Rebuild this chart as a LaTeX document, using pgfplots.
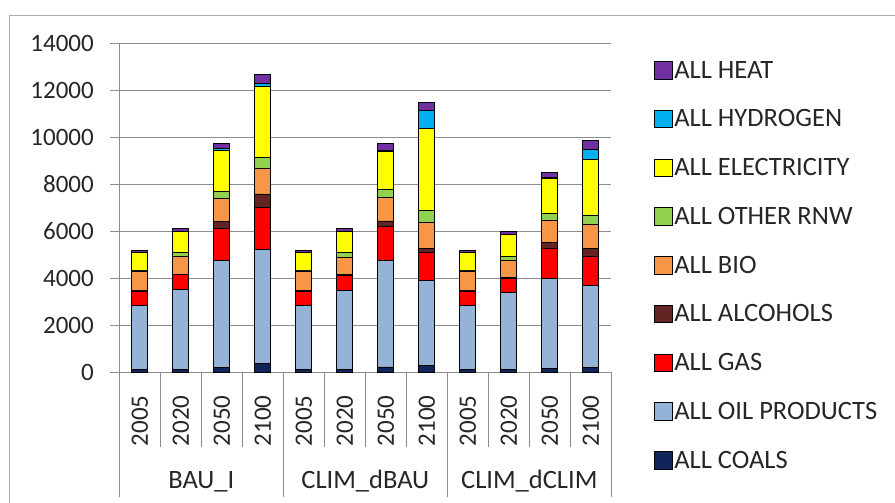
\documentclass[border=0pt]{standalone}
\usepackage{pgfplots}
\pgfplotsset{compat=1.18}
\usepackage{fontspec}
\setmainfont{Carlito}
\definecolor{cHeat}{HTML}{7030A0}
\definecolor{cHyd}{HTML}{00B0F0}
\definecolor{cElec}{HTML}{FFFF00}
\definecolor{cRnw}{HTML}{92D050}
\definecolor{cBio}{HTML}{F79646}
\definecolor{cAlc}{HTML}{632523}
\definecolor{cGas}{HTML}{FF0000}
\definecolor{cOil}{HTML}{95B3D7}
\definecolor{cCoal}{HTML}{10255A}
\definecolor{cTxt}{HTML}{262626}
\definecolor{cGrid}{HTML}{8C8C8C}
\newcommand\bigf{\fontsize{25bp}{30bp}\selectfont}
\newcommand\legf{\fontsize{26.5bp}{31bp}\selectfont}
\begin{document}
\begin{tikzpicture}
\path[use as bounding box] (0,0) rectangle (895bp,503bp);
\draw[cGrid!70, line width=0.8bp] (9bp,-10bp) -- (9bp,488bp) -- (905bp,488bp);
\begin{axis}[
 at={(119.3bp,131bp)}, anchor=south west,
 scale only axis, width=492bp, height=329bp,
 ybar stacked, bar width=16bp,
 xmin=-0.5, xmax=11.5, ymin=0, ymax=14000,
 xtick={0,...,11},
 xticklabels={2005,2020,2050,2100,2005,2020,2050,2100,2005,2020,2050,2100},
 xticklabel style={rotate=90, anchor=east, font=\bigf, text=cTxt},
 xticklabel shift={11bp},
 major x tick style={draw=none},
 ytick={0,2000,...,14000},
 scaled y ticks=false,
 yticklabel style={font=\bigf, text=cTxt, xshift=-13bp, /pgf/number format/1000 sep={}},
 /pgf/number format/assume math mode=true,
 ymajorgrids, grid style={cGrid, line width=0.8bp},
 axis x line*=bottom, axis y line*=left,
 axis line style={cGrid, line width=0.8bp, -},
 y tick style={cGrid, line width=0.8bp},
 tick align=outside, major tick length=9bp,
 clip=false,
 every axis plot/.append style={draw=black, line width=0.8bp},
 reverse legend,
 legend cell align=left,
 legend image code/.code={\draw[#1,draw=black,line width=0.8bp] (0bp,-8.8bp) rectangle (17.7bp,8.8bp);},
 legend style={at={(1.08,0.958)}, anchor=north west, draw=none, fill=none,
   font=\legf, text=cTxt, row sep=26.1bp},
]
\addplot[fill=cCoal] coordinates {(0,100)(1,100)(2,210)(3,360)(4,100)(5,100)(6,213)(7,290)(8,100)(9,100)(10,150)(11,190)};
\addlegendentry{ALL COALS}
\addplot[fill=cOil] coordinates {(0,2730)(1,3410)(2,4550)(3,4870)(4,2730)(5,3354)(6,4550)(7,3590)(8,2730)(9,3266)(10,3830)(11,3507)};
\addlegendentry{ALL OIL PRODUCTS}
\addplot[fill=cGas] coordinates {(0,620)(1,640)(2,1335)(3,1760)(4,620)(5,670)(6,1420)(7,1210)(8,620)(9,620)(10,1290)(11,1207)};
\addlegendentry{ALL GAS}
\addplot[fill=cAlc] coordinates {(0,20)(1,20)(2,330)(3,585)(4,20)(5,20)(6,243)(7,170)(8,20)(9,20)(10,255)(11,358)};
\addlegendentry{ALL ALCOHOLS}
\addplot[fill=cBio] coordinates {(0,830)(1,750)(2,950)(3,1095)(4,830)(5,750)(6,994)(7,1090)(8,830)(9,755)(10,940)(11,1023)};
\addlegendentry{ALL BIO}
\addplot[fill=cRnw] coordinates {(0,30)(1,170)(2,315)(3,470)(4,30)(5,200)(6,358)(7,540)(8,30)(9,140)(10,285)(11,397)};
\addlegendentry{ALL OTHER RNW}
\addplot[fill=cElec] coordinates {(0,740)(1,900)(2,1760)(3,3010)(4,740)(5,900)(6,1606)(7,3480)(8,740)(9,968)(10,1490)(11,2375)};
\addlegendentry{ALL ELECTRICITY}
\addplot[fill=cHyd] coordinates {(0,0)(1,0)(2,70)(3,145)(4,0)(5,0)(6,40)(7,750)(8,0)(9,0)(10,20)(11,426)};
\addlegendentry{ALL HYDROGEN}
\addplot[fill=cHeat] coordinates {(0,110)(1,130)(2,210)(3,355)(4,110)(5,130)(6,286)(7,340)(8,110)(9,128)(10,215)(11,354)};
\addlegendentry{ALL HEAT}
% category separators
\draw[cGrid, line width=0.8bp] (axis cs:-0.5,0) -- ++(0pt,-124.7bp);
\draw[cGrid, line width=0.8bp] (axis cs:3.5,0) -- ++(0pt,-124.7bp);
\draw[cGrid, line width=0.8bp] (axis cs:7.5,0) -- ++(0pt,-124.7bp);
\draw[cGrid, line width=0.8bp] (axis cs:11.5,0) -- ++(0pt,-124.7bp);
\draw[cGrid, line width=0.8bp] (axis cs:0.5,0) -- ++(0pt,-74.7bp);
\draw[cGrid, line width=0.8bp] (axis cs:1.5,0) -- ++(0pt,-74.7bp);
\draw[cGrid, line width=0.8bp] (axis cs:2.5,0) -- ++(0pt,-74.7bp);
\draw[cGrid, line width=0.8bp] (axis cs:4.5,0) -- ++(0pt,-74.7bp);
\draw[cGrid, line width=0.8bp] (axis cs:5.5,0) -- ++(0pt,-74.7bp);
\draw[cGrid, line width=0.8bp] (axis cs:6.5,0) -- ++(0pt,-74.7bp);
\draw[cGrid, line width=0.8bp] (axis cs:8.5,0) -- ++(0pt,-74.7bp);
\draw[cGrid, line width=0.8bp] (axis cs:9.5,0) -- ++(0pt,-74.7bp);
\draw[cGrid, line width=0.8bp] (axis cs:10.5,0) -- ++(0pt,-74.7bp);
\node[anchor=base, font=\legf, text=cTxt] at ([yshift=-116bp]axis cs:1.5,0) {BAU\_I};
\node[anchor=base, font=\legf, text=cTxt] at ([yshift=-116bp]axis cs:5.5,0) {CLIM\_dBAU};
\node[anchor=base, font=\legf, text=cTxt] at ([yshift=-116bp]axis cs:9.5,0) {CLIM\_dCLIM};
\end{axis}
\end{tikzpicture}
\end{document}
